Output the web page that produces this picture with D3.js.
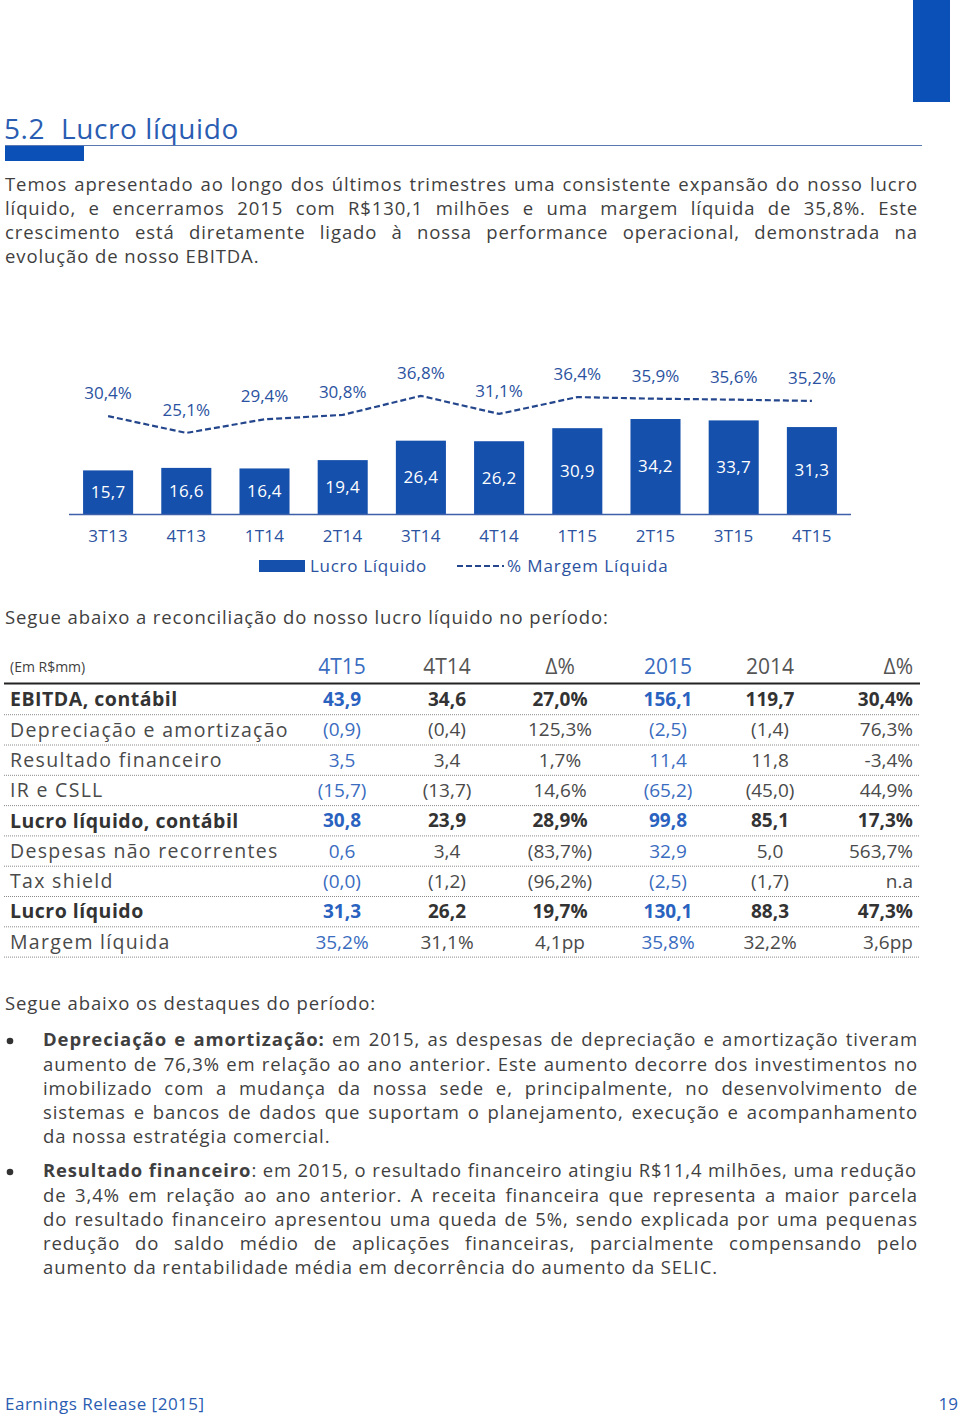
<!DOCTYPE html>
<html>
<head>
<meta charset="utf-8">
<script src="https://cdn.jsdelivr.net/npm/d3@7"></script>
<style>
  html, body { margin: 0; padding: 0; background: #fff; }
  svg { display: block; }
</style>
</head>
<body>
<svg id="page" width="960" height="1418"></svg>
<script>
// ---------- DATA ----------
const categories = ["3T13","4T13","1T14","2T14","3T14","4T14","1T15","2T15","3T15","4T15"];
const lucroLiquido = [15.7,16.6,16.4,19.4,26.4,26.2,30.9,34.2,33.7,31.3];
const margemLiquida = [30.4,25.1,29.4,30.8,36.8,31.1,36.4,35.9,35.6,35.2];
const legendLabels = ["Lucro Líquido","% Margem Líquida"];

const tableHeaders = ["(Em R$mm)","4T15","4T14","Δ%","2015","2014","Δ%"];
const rowLabels = ["EBITDA, contábil","Depreciação e amortização","Resultado financeiro","IR e CSLL","Lucro líquido, contábil","Despesas não recorrentes","Tax shield","Lucro líquido","Margem líquida"];
const col4T15 = ["43,9","(0,9)","3,5","(15,7)","30,8","0,6","(0,0)","31,3","35,2%"];
const col4T14 = ["34,6","(0,4)","3,4","(13,7)","23,9","3,4","(1,2)","26,2","31,1%"];
const colDeltaQ = ["27,0%","125,3%","1,7%","14,6%","28,9%","(83,7%)","(96,2%)","19,7%","4,1pp"];
const col2015 = ["156,1","(2,5)","11,4","(65,2)","99,8","32,9","(2,5)","130,1","35,8%"];
const col2014 = ["119,7","(1,4)","11,8","(45,0)","85,1","5,0","(1,7)","88,3","32,2%"];
const colDeltaY = ["30,4%","76,3%","-3,4%","44,9%","17,3%","563,7%","n.a","47,3%","3,6pp"];
const boldRows = [0,4,7];

const titleText = "5.2  Lucro líquido";
const introLines = [
  "Temos apresentado ao longo dos últimos trimestres uma consistente expansão do nosso lucro",
  "líquido, e encerramos 2015 com R$130,1 milhões e uma margem líquida de 35,8%. Este",
  "crescimento está diretamente ligado à nossa performance operacional, demonstrada na",
  "evolução de nosso EBITDA."
];
const reconText = "Segue abaixo a reconciliação do nosso lucro líquido no período:";
const highlightsText = "Segue abaixo os destaques do período:";
const bullet1 = [
  [["Depreciação e amortização:", true], [" em 2015, as despesas de depreciação e amortização tiveram", false]],
  [["aumento de 76,3% em relação ao ano anterior. Este aumento decorre dos investimentos no", false]],
  [["imobilizado com a mudança da nossa sede e, principalmente, no desenvolvimento de", false]],
  [["sistemas e bancos de dados que suportam o planejamento, execução e acompanhamento", false]],
  [["da nossa estratégia comercial.", false]]
];
const bullet2 = [
  [["Resultado financeiro", true], [": em 2015, o resultado financeiro atingiu R$11,4 milhões, uma redução", false]],
  [["de 3,4% em relação ao ano anterior. A receita financeira que representa a maior parcela", false]],
  [["do resultado financeiro apresentou uma queda de 5%, sendo explicada por uma pequenas", false]],
  [["redução do saldo médio de aplicações financeiras, parcialmente compensando pelo", false]],
  [["aumento da rentabilidade média em decorrência do aumento da SELIC.", false]]
];
const footerLeft = "Earnings Release [2015]";
const footerRight = "19";

// ---------- STYLE ----------
const FONT = "'Open Sans', 'DejaVu Sans', sans-serif";
const BLUE_DARK = "#0b50b6";
const BAR_BLUE = "#1550ac";
const TITLE_BLUE = "#2a5db2";
const CHART_TXT = "#2b52a0";
const TABLE_BLUE = "#3a6cc0";
const GRAY = "#3f3f3f";
const BODY_LS = 0.9;

const svg = d3.select("#page").style("font-family", FONT);

// helper: justified line
function justifiedLine(g, parts, x, y, width, size, justify, color) {
  const t = g.append("text").attr("x", x).attr("y", y).attr("dy", "0.35em")
    .attr("font-size", size).attr("fill", color).attr("letter-spacing", BODY_LS);
  parts.forEach(([s, b]) => {
    t.append("tspan").text(s).attr("font-weight", b ? 700 : 400);
  });
  const natural = t.node().getComputedTextLength();
  if (justify) {
    const txt = parts.map(p => p[0]).join("");
    const spaces = (txt.match(/ /g) || []).length;
    if (natural < width && spaces > 0) {
      t.attr("word-spacing", (width - natural) / spaces);
    } else if (natural > width) {
      t.attr("transform", `translate(${x},0) scale(${width / natural},1) translate(${-x},0)`);
    }
  } else if (natural > width) {
    t.attr("transform", `translate(${x},0) scale(${width / natural},1) translate(${-x},0)`);
  }
  return t;
}

// ---------- HEADER ----------
svg.append("rect").attr("x", 913).attr("y", 0).attr("width", 37).attr("height", 102).attr("fill", BLUE_DARK);
svg.append("text").attr("x", 4).attr("y", 139).attr("font-size", 28).attr("fill", TITLE_BLUE)
  .attr("letter-spacing", 0.6)
  .attr("xml:space", "preserve").style("white-space", "pre").text(titleText);
svg.append("line").attr("x1", 5).attr("x2", 922).attr("y1", 145.5).attr("y2", 145.5)
  .attr("stroke", "#5a78b0").attr("stroke-width", 1.2);
svg.append("rect").attr("x", 5).attr("y", 146).attr("width", 79).attr("height", 15).attr("fill", BLUE_DARK);

const intro = svg.append("g");
introLines.forEach((l, i) => {
  justifiedLine(intro, [[l, false]], 5, 185 + i * 24, 913, 18.5, i < introLines.length - 1, GRAY);
});

// ---------- CHART ----------
const chart = svg.append("g");
const x = d3.scaleBand().domain(categories).range([69, 851]).paddingInner(0.36).paddingOuter(0.18);
const yBar = d3.scaleLinear().domain([0, 40]).range([514, 514 - 111.1]);
const yLine = d3.scaleLinear().domain([0, 40]).range([512.5, 512.5 - 126.8]);

chart.selectAll("rect.bar").data(lucroLiquido).join("rect").attr("class", "bar")
  .attr("x", (d, i) => x(categories[i]))
  .attr("width", x.bandwidth())
  .attr("y", d => yBar(d))
  .attr("height", d => yBar(0) - yBar(d))
  .attr("fill", BAR_BLUE);

chart.selectAll("text.barlbl").data(lucroLiquido).join("text").attr("class", "barlbl")
  .attr("x", (d, i) => x(categories[i]) + x.bandwidth() / 2)
  .attr("y", d => (yBar(d) + yBar(0)) / 2)
  .attr("dy", "0.35em").attr("text-anchor", "middle")
  .attr("font-size", 17).attr("fill", "#fff").attr("letter-spacing", 0.3)
  .text(d => d.toFixed(1).replace(".", ","));

// axis baseline
const xAxis = d3.axisBottom(x).tickSize(0).tickPadding(16);
const axisG = chart.append("g").attr("transform", "translate(0,514)").call(xAxis);
axisG.select(".domain").attr("stroke", "#3d60a8").attr("stroke-width", 1.6)
  .attr("d", "M69,0.5H851");
axisG.selectAll(".tick text").attr("font-size", 17).attr("fill", CHART_TXT)
  .attr("font-family", FONT).attr("letter-spacing", 0.3);

// line
const line = d3.line().x((d, i) => x(categories[i]) + x.bandwidth() / 2).y(d => yLine(d));
chart.append("path").datum(margemLiquida).attr("d", line)
  .attr("fill", "none").attr("stroke", "#24468c").attr("stroke-width", 2.2)
  .attr("stroke-dasharray", "6,3");

chart.selectAll("text.linelbl").data(margemLiquida).join("text").attr("class", "linelbl")
  .attr("x", (d, i) => x(categories[i]) + x.bandwidth() / 2)
  .attr("y", d => yLine(d) - 23)
  .attr("dy", "0.35em").attr("text-anchor", "middle")
  .attr("font-size", 17).attr("fill", CHART_TXT)
  .text(d => d.toFixed(1).replace(".", ",") + "%");

// legend
const lg = chart.append("g");
lg.append("rect").attr("x", 259).attr("y", 560).attr("width", 46).attr("height", 12).attr("fill", BAR_BLUE);
lg.append("text").attr("x", 310).attr("y", 566).attr("dy", "0.35em").attr("font-size", 17)
  .attr("letter-spacing", 0.7).attr("fill", CHART_TXT).text(legendLabels[0]);
lg.append("line").attr("x1", 457).attr("x2", 504).attr("y1", 566).attr("y2", 566)
  .attr("stroke", "#24468c").attr("stroke-width", 2.2).attr("stroke-dasharray", "6,3");
lg.append("text").attr("x", 507).attr("y", 566).attr("dy", "0.35em").attr("font-size", 17)
  .attr("letter-spacing", 0.9).attr("fill", CHART_TXT).text(legendLabels[1]);

// ---------- TABLE ----------
svg.append("text").attr("x", 5).attr("y", 618).attr("dy", "0.35em").attr("font-size", 18.5)
  .attr("letter-spacing", BODY_LS).attr("fill", GRAY).text(reconText);

const tbl = svg.append("g");
const colCenters = [342, 447, 560, 668, 770, 913];
const colAnchors = ["middle","middle","middle","middle","middle","end"];
const colBlue = [true,false,false,true,false,false];
const cols = [col4T15, col4T14, colDeltaQ, col2015, col2014, colDeltaY];

tbl.append("text").attr("x", 10).attr("y", 667).attr("dy", "0.35em").attr("font-size", 14)
  .attr("fill", GRAY).text(tableHeaders[0]);
tableHeaders.slice(1).forEach((h, j) => {
  tbl.append("text").attr("x", j === 5 ? 913 : colCenters[j]).attr("y", 667).attr("dy", "0.35em")
    .attr("text-anchor", colAnchors[j]).attr("font-size", 21)
    .attr("fill", colBlue[j] ? TABLE_BLUE : "#555").text(h);
});
tbl.append("line").attr("x1", 4).attr("x2", 920).attr("y1", 683.5).attr("y2", 683.5)
  .attr("stroke", "#222").attr("stroke-width", 2.2);

const rowY = i => 699.5 + i * 30.3;
rowLabels.forEach((lab, i) => {
  const bold = boldRows.includes(i);
  tbl.append("text").attr("x", 10).attr("y", rowY(i)).attr("dy", "0.35em")
    .attr("font-size", 19.5).attr("font-weight", bold ? 700 : 400)
    .attr("letter-spacing", bold ? 0.5 : 1.3)
    .attr("fill", bold ? "#333" : "#4a4a4a").text(lab);
  cols.forEach((c, j) => {
    tbl.append("text").attr("x", colCenters[j]).attr("y", rowY(i)).attr("dy", "0.35em")
      .attr("text-anchor", colAnchors[j]).attr("font-size", 19)
      .attr("font-weight", bold ? 700 : 400)
      .attr("fill", colBlue[j] ? (bold ? "#2a62bf" : TABLE_BLUE) : (bold ? "#333" : "#4a4a4a"))
      .text(c[i]);
  });
  tbl.append("line").attr("x1", 4).attr("x2", 920)
    .attr("y1", rowY(i) + 15.2).attr("y2", rowY(i) + 15.2)
    .attr("stroke", "#8a8a8a").attr("stroke-width", 1).attr("stroke-dasharray", "1,1");
});

// ---------- HIGHLIGHTS ----------
svg.append("text").attr("x", 5).attr("y", 1004).attr("dy", "0.35em").attr("font-size", 18.5)
  .attr("letter-spacing", BODY_LS).attr("fill", GRAY).text(highlightsText);

const hl = svg.append("g");
[[bullet1, 1040], [bullet2, 1171]].forEach(([lines, y0]) => {
  hl.append("circle").attr("cx", 10).attr("cy", y0 + 1).attr("r", 3.3).attr("fill", "#333");
  lines.forEach((parts, i) => {
    justifiedLine(hl, parts, 43, y0 + i * 24.2, 875, 18.5, i < lines.length - 1, GRAY);
  });
});

// ---------- FOOTER ----------
svg.append("text").attr("x", 5).attr("y", 1404).attr("dy", "0.35em").attr("font-size", 17)
  .attr("letter-spacing", 0.5).attr("fill", TITLE_BLUE).text(footerLeft);
svg.append("text").attr("x", 958).attr("y", 1404).attr("dy", "0.35em").attr("text-anchor", "end")
  .attr("font-size", 17).attr("fill", TITLE_BLUE).text(footerRight);
</script>
</body>
</html>
